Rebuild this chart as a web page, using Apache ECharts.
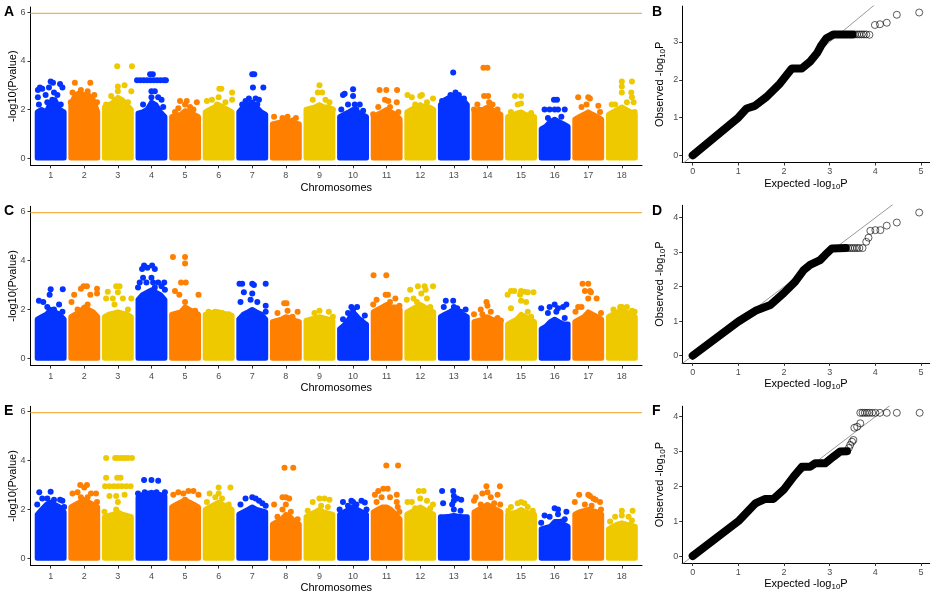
<!DOCTYPE html>
<html>
<head>
<meta charset="utf-8">
<script src="https://cdn.jsdelivr.net/npm/echarts@6/dist/echarts.min.js"></script>
<style>
html,body{margin:0;padding:0;background:#fff;}
#main{width:936px;height:600px;}
</style>
</head>
<body>
<div id="main"></div>
<script>
// chromosomes and colours
var chromosomes = [1,2,3,4,5,6,7,8,9,10,11,12,13,14,15,16,17,18];
var chromColors = ['#0433ff', '#ff7f00', '#eec900'];
var manhattanTicks = [0, 2, 4, 6];
var threshold = 5.96;

// offsets inside a chromosome where the dense cloud top was read
var envOffsets = [-0.4, -0.27, -0.13, 0, 0.13, 0.27, 0.4];

// panel A : dense cloud top + single points above it  [offset, -log10 p]
var envA = [
    [1.9,2.0,1.9,2.3,2.4,2.0,1.9],
    [2.2,2.6,2.7,2.5,2.6,2.4,1.9],
    [2.1,2.2,2.3,2.5,2.4,2.2,2.0],
    [1.85,1.9,2.0,2.3,2.2,1.9,1.7],
    [1.7,1.75,1.8,1.95,1.9,1.8,1.7],
    [1.9,2.0,2.1,2.2,2.1,2.0,1.9],
    [1.9,2.1,2.2,2.3,2.1,1.9,1.8],
    [1.4,1.45,1.5,1.5,1.5,1.45,1.4],
    [2.0,2.05,2.1,2.2,2.1,2.1,2.0],
    [1.7,1.8,1.9,2.0,1.9,1.8,1.7],
    [1.7,1.8,1.9,2.0,1.9,1.8,1.6],
    [1.9,2.0,2.1,2.2,2.1,2.1,2.0],
    [2.2,2.4,2.5,2.6,2.5,2.4,2.2],
    [1.9,2.0,2.0,2.1,2.0,1.9,1.8],
    [1.7,1.75,1.85,1.9,1.8,1.75,1.7],
    [1.2,1.3,1.5,1.6,1.5,1.4,1.3],
    [1.6,1.7,1.8,1.9,1.8,1.7,1.6],
    [1.8,1.9,2.0,2.1,2.0,1.9,1.8]
];
var hitsA = [
    [[-0.38,2.8],[-0.32,2.9],[-0.25,2.85],[-0.38,2.5],[-0.35,2.2],[-0.15,2.6],[-0.05,2.9],[0,3.15],[0.07,3.1],[0.1,2.7],[0.05,2.4],[0.2,2.6],[0.28,3.05],[0.35,2.9],[-0.1,2.3],[0.3,2.2]],
    [[-0.28,3.1],[0.18,3.1],[-0.1,2.8],[0.1,2.75],[-0.35,2.7],[0.3,2.6],[0.38,2.3],[0.2,1.7],[-0.4,2.3],[0,2.6]],
    [[-0.02,3.78],[0.42,3.78],[0.2,3.0],[0,2.95],[0.4,2.75],[-0.2,2.55],[0,2.75],[0.1,2.3],[-0.35,2.2],[0.3,2.3],[-0.1,2.4]],
    [[-0.43,3.2],[-0.33,3.2],[-0.23,3.2],[-0.13,3.2],[-0.03,3.2],[0.07,3.2],[0.17,3.2],[0.27,3.2],[0.37,3.2],[0.43,3.2],[-0.04,3.45],[0.04,3.45],[0,2.75],[0.1,2.75],[0.3,2.4],[0.35,2.1],[-0.25,2.2],[0,2.5],[0.2,2.5]],
    [[-0.15,2.35],[0.05,2.35],[0.35,2.3],[-0.2,2.05],[0.15,2.1],[0.25,2.0],[0,2.2],[-0.3,1.9]],
    [[0.02,2.85],[0.08,2.85],[0.4,2.7],[0.4,2.4],[-0.35,2.35],[-0.2,2.4],[0,2.5],[0.2,2.3],[-0.05,2.2]],
    [[0,3.45],[0.06,3.45],[0.02,2.9],[0.33,2.9],[-0.1,2.45],[0.1,2.45],[0.2,2.4],[-0.3,2.2],[-0.2,2.35],[0.15,2.2]],
    [[-0.35,1.7],[-0.1,1.65],[0.05,1.7],[0.3,1.65],[0.2,1.55]],
    [[0,3.0],[-0.05,2.7],[0.08,2.7],[-0.2,2.4],[0.18,2.4],[0.3,2.3],[0.4,2.0]],
    [[-0.3,2.6],[-0.25,2.65],[0,2.83],[0,2.55],[-0.35,2.0],[-0.15,2.2],[0.05,2.2],[0.2,2.2],[0.3,1.95],[0.1,2.0]],
    [[-0.21,2.8],[-0.01,2.8],[0.31,2.8],[-0.05,2.4],[0.05,2.35],[0.3,2.3],[-0.25,2.1],[0.1,2.1],[0.35,1.9],[-0.4,1.8]],
    [[-0.38,2.6],[-0.25,2.5],[0,2.55],[0.05,2.6],[0.38,2.45],[0.2,2.3],[0.1,2.1],[-0.15,2.2]],
    [[-0.02,3.52],[0.05,2.7],[-0.1,2.6],[0.15,2.6],[0.3,2.45],[-0.35,2.35],[0.35,2.1]],
    [[-0.12,3.72],[0,3.72],[-0.1,2.55],[0.02,2.55],[-0.4,2.0],[-0.3,2.2],[0.05,2.3],[0.15,2.2],[0.3,2.0]],
    [[-0.18,2.55],[0,2.55],[-0.1,2.2],[0,2.25],[0.3,1.85],[-0.3,1.9]],
    [[-0.02,2.4],[0.07,2.4],[-0.3,2.0],[-0.15,2.0],[0,2.0],[0.1,2.0],[0.3,2.0],[-0.2,1.65],[0.2,1.7]],
    [[-0.3,2.5],[0,2.5],[0.05,2.45],[-0.05,2.2],[0.3,2.15],[0.35,1.9],[-0.2,2.1]],
    [[0,3.15],[0.3,3.15],[0,2.95],[0,2.7],[0.28,2.7],[0.3,2.5],[-0.3,2.2],[-0.2,2.2],[0.15,2.3],[0.38,1.9],[0.35,2.3]]
];

// panel C
var envC = [
    [1.6,1.7,1.8,2.0,1.9,1.8,1.6],
    [1.7,1.8,1.9,2.1,2.0,1.9,1.7],
    [1.7,1.8,1.85,1.9,1.85,1.8,1.7],
    [2.4,2.6,2.7,2.8,2.7,2.6,2.4],
    [1.8,1.85,1.9,2.1,2.0,1.9,1.8],
    [1.8,1.85,1.9,1.9,1.85,1.8,1.75],
    [1.6,1.8,1.9,2.0,1.9,1.8,1.6],
    [1.5,1.55,1.6,1.7,1.65,1.55,1.5],
    [1.55,1.6,1.65,1.7,1.65,1.6,1.55],
    [1.2,1.35,1.6,1.9,1.7,1.5,1.4],
    [1.9,2.0,2.1,2.2,2.1,2.1,2.0],
    [1.9,2.0,2.1,2.2,2.1,2.0,1.9],
    [1.7,1.8,1.9,2.0,1.9,1.8,1.7],
    [1.5,1.55,1.6,1.7,1.6,1.55,1.5],
    [1.4,1.5,1.6,1.8,1.7,1.6,1.5],
    [1.2,1.3,1.5,1.6,1.5,1.4,1.4],
    [1.5,1.6,1.7,1.9,1.8,1.7,1.6],
    [1.7,1.8,1.9,2.0,1.9,1.8,1.7]
];
var hitsC = [
    [[0,2.82],[0.36,2.82],[-0.03,2.6],[-0.35,2.35],[-0.22,2.3],[0.25,2.2],[-0.1,2.1],[0.1,2.0],[0.35,1.9]],
    [[-0.02,2.95],[0.08,2.95],[-0.1,2.85],[0.38,2.85],[-0.3,2.6],[0.18,2.6],[0.38,2.65],[-0.38,2.3],[0.1,2.2],[-0.2,2.0]],
    [[-0.05,2.95],[0.05,2.95],[-0.3,2.72],[0,2.7],[-0.35,2.45],[-0.15,2.45],[0.15,2.45],[0.4,2.45],[-0.1,2.2],[0.3,2.0]],
    [[-0.22,3.8],[0.02,3.8],[-0.28,3.65],[-0.12,3.7],[0.1,3.65],[-0.25,3.3],[0,3.3],[-0.35,3.1],[-0.15,3.1],[0.05,3.1],[0.2,3.1],[0.38,3.1],[0.3,2.95],[-0.4,2.9],[0.4,2.8],[0.1,2.9]],
    [[-0.36,4.15],[0,4.15],[0,3.88],[-0.12,3.1],[0.02,3.1],[-0.3,2.75],[-0.17,2.6],[0.4,2.6],[0,2.3],[0.05,2.0],[0.3,1.95]],
    [[-0.3,1.9],[-0.1,1.9],[0.1,1.85],[0.3,1.8]],
    [[-0.38,3.05],[-0.3,3.05],[0,3.05],[0.05,3.0],[0.4,3.05],[-0.25,2.7],[0,2.65],[-0.35,2.3],[-0.05,2.4],[0.15,2.3],[0.4,2.15],[0.4,1.9]],
    [[-0.05,2.25],[0.02,2.25],[-0.25,1.85],[0.05,1.95],[0.35,1.9],[0.2,1.7]],
    [[-0.15,1.85],[0,1.95],[0.28,1.9],[0.4,1.7]],
    [[-0.05,2.1],[0.12,2.1],[0,2.0],[-0.15,1.85],[-0.3,1.6],[0.25,1.55],[0.35,1.75],[0.3,1.45]],
    [[-0.39,3.4],[-0.01,3.4],[-0.03,2.6],[0.04,2.6],[-0.3,2.4],[0.26,2.45],[-0.4,2.2],[0.38,2.15],[0.1,2.3]],
    [[-0.07,2.95],[0.13,2.95],[0.38,2.95],[-0.3,2.8],[0.16,2.8],[0.03,2.65],[-0.4,2.4],[-0.2,2.45],[0.2,2.45],[-0.1,2.3],[0.3,2.1]],
    [[-0.24,2.35],[-0.02,2.35],[-0.3,2.1],[0,2.1],[0.1,2.05],[0.35,2.0],[0.2,1.9]],
    [[-0.03,2.3],[0,2.15],[-0.2,2.0],[-0.4,1.8],[-0.15,1.8],[0.3,1.65],[0.4,1.55],[0.1,1.9]],
    [[-0.3,2.75],[-0.2,2.75],[0,2.75],[0.1,2.72],[0.2,2.7],[0.37,2.7],[-0.4,2.6],[-0.03,2.6],[0,2.35],[0.15,2.3],[-0.3,2.05],[0.2,1.9],[0.3,1.7]],
    [[0,2.2],[0.35,2.2],[-0.4,2.05],[-0.15,2.1],[0.1,2.05],[0.25,2.1],[-0.2,1.85],[0.05,1.9],[0.3,1.65]],
    [[-0.17,3.05],[0,3.05],[-0.1,2.75],[0.05,2.75],[0.08,2.7],[0,2.45],[0.25,2.45],[-0.3,2.1],[-0.2,2.1],[-0.38,1.9],[0.38,1.85]],
    [[-0.25,2.0],[-0.05,2.1],[0,2.1],[0.15,2.1],[0.3,1.95],[0.38,1.9]]
];

// panel E
var envE = [
    [1.8,2.0,2.2,2.3,2.2,2.1,1.9],
    [2.1,2.2,2.3,2.4,2.3,2.2,2.1],
    [1.7,1.75,1.8,1.9,1.8,1.75,1.7],
    [2.5,2.6,2.65,2.7,2.65,2.6,2.55],
    [2.1,2.2,2.3,2.4,2.3,2.2,2.1],
    [2.0,2.1,2.2,2.3,2.2,2.1,2.0],
    [1.8,1.9,2.0,2.1,2.0,1.95,1.9],
    [1.4,1.5,1.6,1.8,1.7,1.5,1.4],
    [1.7,1.8,1.9,2.0,1.9,1.85,1.8],
    [1.8,1.9,2.0,2.1,2.0,1.9,1.8],
    [1.9,2.0,2.1,2.1,2.0,1.8,1.6],
    [1.8,1.9,2.0,2.1,2.0,1.9,1.8],
    [1.7,1.7,1.72,1.75,1.72,1.7,1.7],
    [1.9,2.0,2.1,2.2,2.1,2.0,1.9],
    [1.8,1.85,1.9,2.0,1.9,1.85,1.8],
    [1.2,1.25,1.3,1.5,1.5,1.4,1.3],
    [1.8,1.9,1.95,2.0,1.95,1.9,1.8],
    [1.2,1.3,1.4,1.45,1.4,1.35,1.3]
];
var hitsE = [
    [[-0.34,2.7],[0,2.72],[-0.25,2.45],[-0.1,2.45],[0.1,2.4],[0.28,2.4],[0.35,2.35],[-0.4,2.2],[0.4,2.1]],
    [[-0.12,3.0],[0.08,3.0],[0,2.9],[-0.35,2.65],[-0.2,2.7],[0.2,2.65],[0.35,2.65],[-0.1,2.5],[0.1,2.5],[0.38,2.3]],
    [[-0.35,4.1],[-0.08,4.1],[0,4.1],[0.1,4.1],[0.2,4.1],[0.3,4.1],[0.42,4.1],[-0.35,3.3],[-0.02,3.3],[0.08,3.3],[-0.38,2.95],[-0.25,2.95],[-0.12,2.95],[0,2.95],[0.12,2.95],[0.25,2.95],[0.38,2.95],[-0.25,2.55],[-0.05,2.55],[0,2.3],[-0.05,2.0],[-0.4,1.9],[0.2,2.6]],
    [[-0.22,3.2],[0,3.2],[0.2,3.17],[-0.4,2.65],[0.4,2.7],[-0.2,2.7],[0.15,2.7]],
    [[-0.35,2.6],[-0.2,2.7],[-0.05,2.65],[0.1,2.75],[0.25,2.75],[0.4,2.6],[0,2.4],[0.35,1.9]],
    [[0,2.9],[0.35,2.9],[-0.27,2.65],[0,2.65],[-0.1,2.5],[0.1,2.45],[0.3,2.2],[-0.35,2.3]],
    [[-0.2,2.45],[0,2.5],[0.1,2.45],[0.2,2.35],[-0.35,2.2],[0.4,2.15],[0.3,2.25]],
    [[-0.04,3.7],[0.22,3.7],[-0.1,2.5],[0,2.5],[0.1,2.45],[-0.35,2.2],[0,2.2],[-0.1,2.0],[0.15,1.9],[0.35,1.6],[-0.25,1.7]],
    [[0,2.45],[0.15,2.45],[0.3,2.4],[-0.2,2.3],[-0.35,1.95],[0.05,2.15],[0.25,2.1]],
    [[-0.3,2.3],[-0.05,2.35],[0,2.3],[0.25,2.35],[0.35,2.28],[-0.15,2.15],[0.1,2.2],[-0.4,2.0],[0.4,2.0]],
    [[-0.01,3.8],[0.34,3.8],[-0.1,2.85],[0.03,2.85],[-0.25,2.75],[0.3,2.6],[-0.35,2.6],[-0.15,2.5],[0.1,2.5],[0.3,2.3],[-0.3,2.3],[0.33,2.1],[0.38,1.9]],
    [[-0.04,2.75],[0.1,2.75],[-0.38,2.3],[-0.25,2.3],[0,2.45],[0.2,2.35],[0.38,2.2],[0.3,2.05],[-0.15,2.05]],
    [[-0.35,2.75],[-0.02,2.75],[-0.32,2.25],[0,2.55],[0.1,2.45],[0.22,2.4],[0,2.35],[0,2.0],[0.2,1.95],[-0.05,2.2]],
    [[-0.03,2.95],[0.37,2.95],[-0.15,2.65],[0,2.7],[0.3,2.6],[-0.35,2.5],[-0.4,2.35],[0.1,2.5],[0.38,2.2],[0.2,2.25],[-0.2,2.2]],
    [[-0.1,2.25],[0,2.3],[0.1,2.25],[-0.3,2.1],[0.2,2.1],[0.35,1.95],[-0.38,1.95]],
    [[0,2.05],[0.1,2.0],[0.35,1.9],[-0.3,1.75],[-0.15,1.7],[0.1,1.8],[0.3,1.6],[-0.4,1.45],[0.2,1.5]],
    [[-0.27,2.6],[0,2.6],[0.05,2.55],[0.15,2.45],[0.22,2.4],[-0.4,2.3],[0.35,2.3],[-0.1,2.2],[0.1,2.15],[0.38,2.0]],
    [[0,1.95],[0.32,1.95],[-0.2,1.7],[0,1.75],[0.2,1.7],[0.3,1.55],[-0.35,1.5]]
];

// QQ plots: dense part of the curve, then the single open circles
var qqTicksX = [0, 1, 2, 3, 4, 5];
var qqLineB = [[0,0],[1,1],[1.18,1.24],[1.36,1.31],[1.62,1.55],[1.91,1.9],[2.17,2.3],[2.39,2.3],[2.57,2.48],[2.72,2.7],[2.82,2.92],[2.93,3.1],[3.08,3.2],[3.5,3.2]];
var qqDotsB = [[3.55,3.2],[3.6,3.2],[3.65,3.2],[3.7,3.2],[3.75,3.2],[3.8,3.2],[3.87,3.19],[3.99,3.45],[4.1,3.47],[4.25,3.51],[4.47,3.72],[4.96,3.78]];
var qqLineD = [[0,0],[1.0,0.99],[1.4,1.32],[1.7,1.47],[1.99,1.81],[2.24,2.14],[2.43,2.48],[2.57,2.63],[2.79,2.77],[2.9,2.92],[3.05,3.11],[3.35,3.12]];
var qqDotsD = [[3.4,3.12],[3.45,3.12],[3.5,3.12],[3.55,3.12],[3.6,3.12],[3.65,3.12],[3.72,3.12],[3.8,3.3],[3.85,3.42],[3.89,3.62],[4.0,3.64],[4.11,3.64],[4.25,3.77],[4.47,3.86],[4.96,4.15]];
var qqLineF = [[0,0],[1.0,1.0],[1.37,1.51],[1.59,1.64],[1.77,1.64],[1.99,1.9],[2.21,2.28],[2.39,2.56],[2.57,2.56],[2.68,2.66],[2.9,2.66],[3.08,2.85],[3.23,3.0],[3.38,3.01]];
var qqDotsF = [[3.42,3.1],[3.45,3.19],[3.49,3.28],[3.52,3.33],[3.54,3.68],[3.6,3.71],[3.67,3.81],[3.67,4.11],[3.72,4.11],[3.77,4.11],[3.82,4.11],[3.87,4.11],[3.93,4.11],[4.0,4.11],[4.1,4.11],[4.25,4.11],[4.47,4.11],[4.97,4.11]];

var FONT = 'Liberation Sans, Arial, sans-serif';
var tickGrey = '#4d4d4d';

// grids: 0-2 manhattan, 3-5 qq
var grids = [
    {left: 30.5, top: 7, width: 611.5, height: 158.3},
    {left: 30.5, top: 206.3, width: 611.5, height: 159.3},
    {left: 30.5, top: 406.3, width: 611.5, height: 159.3},
    {left: 682.2, top: 6.1, width: 247.5, height: 156.4},
    {left: 682.2, top: 205.3, width: 247.5, height: 157.6},
    {left: 682.2, top: 406.2, width: 247.5, height: 156.8}
].map(function (g) { g.outerBoundsMode = 'none'; g.containLabel = false; return g; });

var xAxes = [], yAxes = [], series = [];

function baseAxis(i) {
    return {
        type: 'value', gridIndex: i, splitLine: {show: false},
        axisLine: {show: true, onZero: false, lineStyle: {color: '#000', width: 1}},
        nameLocation: 'middle', nameMoveOverlap: false,
        nameTextStyle: {color: '#000', fontSize: 11, fontFamily: FONT}
    };
}

function manhattan(i, env, hits) {
    var xa = baseAxis(i);
    xa.min = 0.4; xa.max = 18.6;
    xa.axisTick = {show: true, length: 3, customValues: chromosomes, lineStyle: {color: '#333'}};
    xa.axisLabel = {customValues: chromosomes, color: tickGrey, fontSize: 9, margin: 6, fontFamily: FONT};
    xa.name = 'Chromosomes'; xa.nameGap = 17;
    xAxes.push(xa);
    var ya = baseAxis(i);
    ya.min = -0.3; ya.max = 6.22;
    ya.axisTick = {show: true, length: 3, customValues: manhattanTicks, lineStyle: {color: '#333'}};
    ya.axisLabel = {customValues: manhattanTicks, color: tickGrey, fontSize: 9, margin: 5, fontFamily: FONT};
    ya.name = '-log10(Pvalue)'; ya.nameGap = 12.5; ya.nameRotate = 90;
    yAxes.push(ya);

    for (var c = 0; c < chromosomes.length; c++) {
        var col = chromColors[c % 3];
        var cx = chromosomes[c];
        var last = envOffsets.length - 1;
        var poly = [[cx + envOffsets[0], 0]];
        for (var k = 0; k < envOffsets.length; k++) {
            poly.push([cx + envOffsets[k], env[c][k]]);
        }
        poly.push([cx + envOffsets[last], 0]);
        poly.push([cx + envOffsets[0], 0]);
        series.push({
            type: 'line', xAxisIndex: i, yAxisIndex: i, data: poly,
            symbol: 'none', silent: true, z: 2, animation: false,
            lineStyle: {color: col, width: 5, join: 'round', cap: 'round'},
            areaStyle: {color: col, opacity: 1}
        });
        series.push({
            type: 'scatter', xAxisIndex: i, yAxisIndex: i, z: 3, animation: false,
            data: hits[c].map(function (h) { return [cx + h[0], h[1]]; }),
            symbolSize: 6, itemStyle: {color: col, opacity: 1}
        });
    }
    // significance line
    series.push({
        type: 'line', xAxisIndex: i, yAxisIndex: i, symbol: 'none', z: 4, animation: false,
        data: [[0.4, threshold], [18.6, threshold]],
        lineStyle: {color: '#f8b24a', width: 1.2}
    });
}

function qq(i, yMin, yMax, yTicks, line, dots) {
    var rich = {
        t: {fontSize: 11, color: '#000', fontFamily: FONT},
        s: {fontSize: 8, color: '#000', fontFamily: FONT, padding: [6, 0, 0, 0]}
    };
    var xa = baseAxis(i);
    xa.min = -0.23; xa.max = 5.19;
    xa.axisTick = {show: true, length: 3, customValues: qqTicksX, lineStyle: {color: '#333'}};
    xa.axisLabel = {customValues: qqTicksX, color: tickGrey, fontSize: 9, margin: 5, fontFamily: FONT};
    xa.name = '{t|Expected -log}{s|10}{t|P}'; xa.nameGap = 14;
    xa.nameTextStyle.rich = rich;
    xAxes.push(xa);
    var ya = baseAxis(i);
    ya.min = yMin; ya.max = yMax;
    ya.axisTick = {show: true, length: 3, customValues: yTicks, lineStyle: {color: '#333'}};
    ya.axisLabel = {customValues: yTicks, color: tickGrey, fontSize: 9, margin: 4, fontFamily: FONT};
    ya.name = '{t|Observed -log}{s|10}{t|P}'; ya.nameGap = 15; ya.nameRotate = 90;
    ya.nameTextStyle.rich = rich;
    yAxes.push(ya);

    // y = x reference
    series.push({
        type: 'line', xAxisIndex: i, yAxisIndex: i, symbol: 'none', z: 1, animation: false,
        data: [[-1, -1], [6, 6]], lineStyle: {color: '#999', width: 1}
    });
    series.push({
        type: 'line', xAxisIndex: i, yAxisIndex: i, symbol: 'none', z: 2, animation: false,
        data: line, lineStyle: {color: '#000', width: 8, cap: 'round', join: 'round'}
    });
    series.push({
        type: 'scatter', xAxisIndex: i, yAxisIndex: i, z: 3, animation: false,
        data: dots, symbol: 'circle', symbolSize: 7,
        itemStyle: {color: 'rgba(255,255,255,0)', borderColor: '#000', borderWidth: 0.8}
    });
}

manhattan(0, envA, hitsA);
manhattan(1, envC, hitsC);
manhattan(2, envE, hitsE);
qq(3, -0.19, 3.95, [0, 1, 2, 3], qqLineB, qqDotsB);
qq(4, -0.21, 4.36, [0, 1, 2, 3, 4], qqLineD, qqDotsD);
qq(5, -0.2, 4.3, [0, 1, 2, 3, 4], qqLineF, qqDotsF);

var letters = [['A', 4, 5], ['B', 652, 5], ['C', 4, 204], ['D', 652, 204], ['E', 4, 404], ['F', 652, 404]];

var chart = echarts.init(document.getElementById('main'));
chart.setOption({
    animation: false,
    backgroundColor: '#fff',
    textStyle: {fontFamily: FONT},
    grid: grids,
    xAxis: xAxes,
    yAxis: yAxes,
    series: series,
    graphic: letters.map(function (l) {
        return {type: 'text', left: l[1], top: l[2], style: {text: l[0], font: 'bold 14px ' + FONT, fill: '#000'}};
    })
});
</script>
</body>
</html>
